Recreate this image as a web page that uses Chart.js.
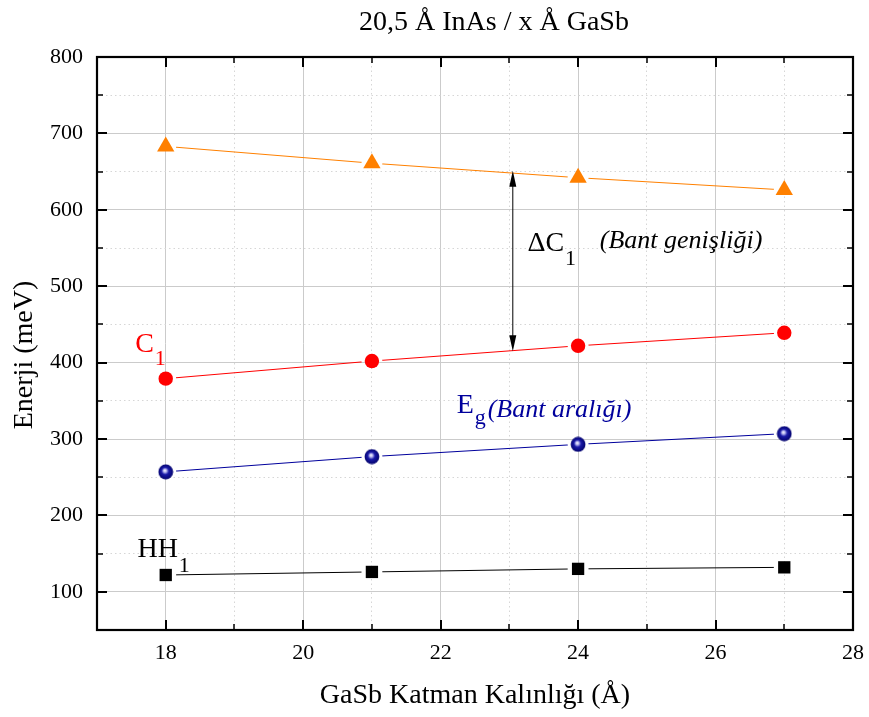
<!DOCTYPE html>
<html><head><meta charset="utf-8">
<script src="https://cdn.jsdelivr.net/npm/chart.js@4/dist/chart.umd.min.js"></script>
<style>html,body{margin:0;padding:0;background:#fff}#wrap{width:869px;height:717px;position:relative}</style>
</head><body><div id="wrap"><canvas id="c"></canvas></div>
<script>
// ---- data ----
const thickness = [18, 21, 24, 27];          // GaSb layer thickness (Å)
const hh1 = [122, 126, 130, 132];            // HH1 (meV)
const eg = [257, 277, 293, 307];             // Eg (meV)
const c1 = [379, 402, 422, 439];             // C1 (meV)
const upper = [683, 661, 642, 626];          // upper level (meV)
const xTickLabels = ['18', '20', '22', '24', '26', '28'];
const yTickLabels = ['100', '200', '300', '400', '500', '600', '700', '800'];
const chartTitle = '20,5 \u00c5 InAs / x \u00c5 GaSb';
const yTitle = 'Enerji (meV)';
const xTitle = 'GaSb Katman Kal\u0131nl\u0131\u011f\u0131 (\u00c5)';
const arrowX = 23.05;
const arrowRange = [651, 415];

const FONT = '"Liberation Serif", "Times New Roman", serif';

function pts(ys) { return thickness.map((x, i) => ({x: x, y: ys[i]})); }

// sphere marker
function sphere() {
  const s = 16, c = document.createElement('canvas');
  c.width = s; c.height = s;
  const g = c.getContext('2d');
  const grad = g.createRadialGradient(7, 6.5, 0, 8, 8, 8);
  grad.addColorStop(0, '#ffffff');
  grad.addColorStop(0.2, '#b8b8f0');
  grad.addColorStop(0.45, '#1a1aa8');
  grad.addColorStop(1, '#000066');
  g.fillStyle = grad;
  g.beginPath(); g.arc(8, 8, 7.4, 0, Math.PI * 2); g.fill();
  return c;
}

const series = [
  {data: hh1, color: '#000000', style: 'rect', r: 8.7},
  {data: eg, color: '#00009c', style: sphere(), r: 7.5},
  {data: c1, color: '#ff0000', style: 'circle', r: 7.2},
  {data: upper, color: '#ff8000', style: 'triangle', r: 10}
];

const datasets = [];
series.forEach(s => {
  datasets.push({type: 'line', data: pts(s.data), borderColor: s.color, borderWidth: 1,
    pointRadius: 0, pointHoverRadius: 0, tension: 0, fill: false, isLine: true});
});
series.forEach(s => {
  datasets.push({type: 'line', data: pts(s.data), showLine: false, pointStyle: s.style,
    pointRadius: s.r, pointHoverRadius: s.r, pointBackgroundColor: s.color,
    pointBorderColor: s.color, pointBorderWidth: 0});
});

const gapPlugin = {
  id: 'gap',
  beforeDatasetDraw(chart, args) {
    const ds = chart.data.datasets[args.index];
    if (!ds.isLine) return;
    const ctx = chart.ctx;
    ctx.save();
    ctx.beginPath();
    ctx.rect(0, 0, chart.width, chart.height);
    args.meta.data.forEach(p => {
      ctx.moveTo(p.x + 10.5, p.y);
      ctx.arc(p.x, p.y, 10.5, 0, Math.PI * 2);
    });
    ctx.clip('evenodd');
  },
  afterDatasetDraw(chart, args) {
    const ds = chart.data.datasets[args.index];
    if (!ds.isLine) return;
    chart.ctx.restore();
  }
};

const framePlugin = {
  id: 'frame',
  afterDatasetsDraw(chart) {
    const ctx = chart.ctx, a = chart.chartArea;
    const xs = chart.scales.x, ys = chart.scales.y;
    ctx.save();
    ctx.strokeStyle = '#000';
    // ticks
    xs.ticks.forEach(t => {
      const v = t.value;
      if (v <= xs.min || v >= xs.max) return;
      const major = xTickLabels.includes(String(v));
      const len = major ? 10 : 6;
      ctx.lineWidth = major ? 2 : 1.5;
      const px = Math.round(xs.getPixelForValue(v));
      ctx.beginPath();
      ctx.moveTo(px, a.bottom); ctx.lineTo(px, a.bottom - len);
      ctx.moveTo(px, a.top); ctx.lineTo(px, a.top + len);
      ctx.stroke();
    });
    ys.ticks.forEach(t => {
      const v = t.value;
      if (v <= ys.min || v >= ys.max) return;
      const major = yTickLabels.includes(String(v));
      const len = major ? 10 : 6;
      ctx.lineWidth = major ? 2 : 1.5;
      const py = Math.round(ys.getPixelForValue(v));
      ctx.beginPath();
      ctx.moveTo(a.left, py); ctx.lineTo(a.left + len, py);
      ctx.moveTo(a.right, py); ctx.lineTo(a.right - len, py);
      ctx.stroke();
    });
    ctx.lineWidth = 2.2;
    ctx.strokeRect(a.left, a.top, a.right - a.left, a.bottom - a.top);

    // arrow
    const ax = xs.getPixelForValue(arrowX);
    const y1 = ys.getPixelForValue(arrowRange[0]);
    const y2 = ys.getPixelForValue(arrowRange[1]);
    ctx.lineWidth = 1;
    ctx.fillStyle = '#000';
    ctx.beginPath(); ctx.moveTo(ax, y1 + 10); ctx.lineTo(ax, y2 - 10); ctx.stroke();
    ctx.beginPath(); ctx.moveTo(ax, y1); ctx.lineTo(ax - 3.5, y1 + 16); ctx.lineTo(ax + 3.5, y1 + 16); ctx.closePath(); ctx.fill();
    ctx.beginPath(); ctx.moveTo(ax, y2); ctx.lineTo(ax - 3.5, y2 - 16); ctx.lineTo(ax + 3.5, y2 - 16); ctx.closePath(); ctx.fill();

    // titles
    ctx.fillStyle = '#000';
    ctx.font = '28px ' + FONT;
    ctx.textAlign = 'center';
    ctx.textBaseline = 'alphabetic';
    ctx.fillText(chartTitle, 494, 29.5);
    ctx.save();
    ctx.translate(25, 355);
    ctx.rotate(-Math.PI / 2);
    ctx.textBaseline = 'middle';
    ctx.fillText(yTitle, 0, 0);
    ctx.restore();

    // labels
    ctx.textBaseline = 'alphabetic';
    ctx.textAlign = 'left';
    function label(text, sub, xv, yv, color, subDy, italicTail, tailXv, tailYv) {
      const x = xs.getPixelForValue(xv), y = ys.getPixelForValue(yv);
      ctx.fillStyle = color;
      ctx.font = '28px ' + FONT;
      ctx.fillText(text, x, y);
      const w = ctx.measureText(text).width;
      ctx.font = '22px ' + FONT;
      ctx.fillText(sub, x + w + 1, y + subDy);
      if (italicTail) {
        ctx.font = 'italic 26px ' + FONT;
        ctx.fillText(italicTail, xs.getPixelForValue(tailXv), ys.getPixelForValue(tailYv));
      }
    }
    label('C', '1', 17.555, 414, '#ff0000', 13);
    label('HH', '1', 17.588, 146, '#000000', 15);
    label('\u0394C', '1', 23.263, 546.3, '#000000', 14, '(Bant geni\u015fli\u011fi)', 24.316, 550.3);
    label('E', 'g', 22.234, 334, '#00009c', 11, '(Bant aral\u0131\u011f\u0131)', 22.685, 329);
    ctx.restore();
  }
};

new Chart(document.getElementById('c'), {
  data: {datasets: datasets},
  options: {
    responsive: true,
    maintainAspectRatio: false,
    animation: false,
    events: [],
    layout: {padding: {left: 0, right: 16, top: 57, bottom: 0}},
    plugins: {
      legend: {display: false},
      tooltip: {enabled: false},
      title: {display: false}
    },
    scales: {
      x: {
        type: 'linear', min: 17, max: 28,
        afterFit: s => { s.height = 87; s.paddingLeft = 0; s.paddingRight = 0; },
        ticks: {stepSize: 1, autoSkip: false, maxRotation: 0, padding: 10, color: '#000',
          font: {family: FONT, size: 22},
          callback: v => xTickLabels.includes(String(v)) ? String(v) : ''},
        grid: {drawTicks: false, lineWidth: 1,
          color: c => (c.tick && xTickLabels.includes(String(c.tick.value))) ? '#cbcbcb' : '#d6d6d6'},
        border: {display: false,
          dash: c => (c.tick && xTickLabels.includes(String(c.tick.value))) ? [] : [1.5, 3]},
        title: {display: true, text: xTitle, color: '#000',
          font: {family: FONT, size: 28}, padding: {top: 0, bottom: 5}}
      },
      y: {
        type: 'linear', min: 50, max: 800,
        afterFit: s => { s.width = 97; s.paddingTop = 0; s.paddingBottom = 0; },
        ticks: {stepSize: 50, autoSkip: false, padding: 14, color: '#000',
          font: {family: FONT, size: 22},
          callback: v => yTickLabels.includes(String(v)) ? String(v) : ''},
        grid: {drawTicks: false, lineWidth: 1,
          color: c => (c.tick && yTickLabels.includes(String(c.tick.value))) ? '#cbcbcb' : '#d6d6d6'},
        border: {display: false,
          dash: c => (c.tick && yTickLabels.includes(String(c.tick.value))) ? [] : [1.5, 3]},
        title: {display: false}
      }
    }
  },
  plugins: [gapPlugin, framePlugin]
});
</script></body></html>
